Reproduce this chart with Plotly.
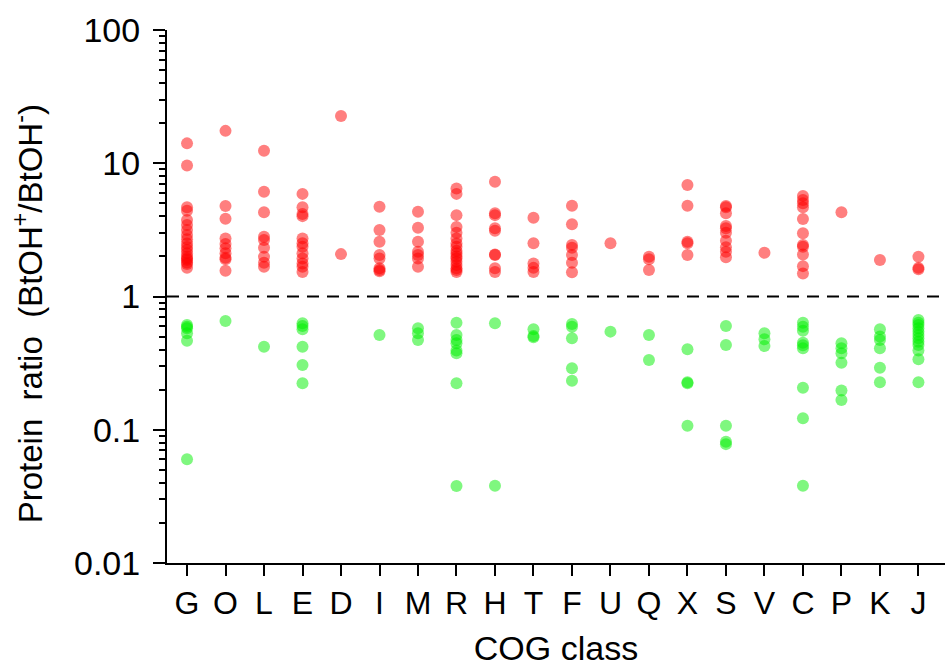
import plotly.graph_objects as go

categories = ["G", "O", "L", "E", "D", "I", "M", "R", "H", "T",
              "F", "U", "Q", "X", "S", "V", "C", "P", "K", "J"]

# ratio > 1 (up-regulated, red)
up_G = [14.1, 9.6, 4.67, 4.4, 3.75, 3.44, 3.15, 2.9, 2.69, 2.5, 2.35, 2.23, 2.11, 1.99, 1.92, 1.88, 1.8, 1.75, 1.64]
up_O = [17.5, 4.77, 3.83, 2.73, 2.48, 2.3, 2.11, 1.95, 1.9, 1.56]
up_L = [12.4, 6.12, 4.28, 2.81, 2.65, 2.32, 1.99, 1.79, 1.67]
up_E = [5.89, 4.67, 4.16, 4.01, 2.73, 2.51, 2.36, 2.11, 1.93, 1.77, 1.67, 1.53]
up_D = [22.6, 2.08]
up_I = [4.72, 3.15, 2.58, 2.05, 1.93, 1.63, 1.58, 1.55]
up_M = [4.32, 3.28, 2.58, 2.17, 2.05, 1.93, 1.67]
up_R = [6.47, 5.89, 4.08, 3.33, 3.01, 2.73, 2.5, 2.36, 2.2, 2.11, 2.0, 1.93, 1.82, 1.72, 1.63, 1.58, 1.53]
up_H = [7.27, 4.21, 4.08, 3.25, 3.12, 2.07, 2.05, 1.63, 1.53]
up_T = [3.9, 2.51, 1.77, 1.64, 1.53]
up_F = [4.8, 3.48, 2.44, 2.32, 2.05, 1.79, 1.52]
up_U = [2.51]
up_Q = [1.99, 1.9, 1.58]
up_X = [6.87, 4.8, 2.58, 2.51, 2.05]
up_S = [4.77, 4.67, 4.21, 3.38, 3.25, 3.01, 2.62, 2.34, 2.17, 1.97]
up_V = [2.13]
up_C = [5.69, 5.3, 5.0, 4.67, 3.81, 2.98, 2.44, 2.36, 2.07, 1.69, 1.49]
up_P = [4.28]
up_K = [1.88]
up_J = [1.99, 1.64, 1.6]

# ratio < 1 (down-regulated, green)
dn_G = [0.611, 0.593, 0.577, 0.529, 0.466, 0.06]
dn_O = [0.655]
dn_L = [0.42]
dn_E = [0.629, 0.6, 0.567, 0.42, 0.306, 0.223]
dn_D = []
dn_I = [0.514]
dn_M = [0.577, 0.529, 0.472]
dn_R = [0.636, 0.514, 0.472, 0.445, 0.393, 0.375, 0.223, 0.0378]
dn_H = [0.629, 0.038]
dn_T = [0.567, 0.505, 0.494]
dn_F = [0.622, 0.593, 0.486, 0.289, 0.233]
dn_U = [0.545]
dn_Q = [0.514, 0.334]
dn_X = [0.402, 0.227, 0.223, 0.107]
dn_S = [0.6, 0.433, 0.107, 0.0814, 0.078]
dn_V = [0.529, 0.478, 0.425]
dn_C = [0.636, 0.593, 0.554, 0.45, 0.43, 0.409, 0.207, 0.122, 0.038]
dn_P = [0.445, 0.409, 0.375, 0.318, 0.197, 0.167]
dn_K = [0.567, 0.5, 0.472, 0.409, 0.292, 0.227]
dn_J = [0.667, 0.636, 0.611, 0.577, 0.545, 0.514, 0.486, 0.458, 0.433, 0.393, 0.338, 0.227]

up_values = [up_G, up_O, up_L, up_E, up_D, up_I, up_M, up_R, up_H, up_T,
             up_F, up_U, up_Q, up_X, up_S, up_V, up_C, up_P, up_K, up_J]
down_values = [dn_G, dn_O, dn_L, dn_E, dn_D, dn_I, dn_M, dn_R, dn_H, dn_T,
               dn_F, dn_U, dn_Q, dn_X, dn_S, dn_V, dn_C, dn_P, dn_K, dn_J]


def flatten(groups):
    xs, ys = [], []
    for cat, vals in zip(categories, groups):
        for v in vals:
            xs.append(cat)
            ys.append(v)
    return xs, ys


FONT = "Liberation Sans, Arial, sans-serif"

fig = go.Figure()
ux, uy = flatten(up_values)
dx, dy = flatten(down_values)
fig.add_trace(go.Scatter(x=ux, y=uy, mode="markers",
                         marker=dict(size=12, color="rgba(255,0,0,0.5)", line=dict(width=0)),
                         showlegend=False))
fig.add_trace(go.Scatter(x=dx, y=dy, mode="markers",
                         marker=dict(size=12, color="rgba(0,240,0,0.5)", line=dict(width=0)),
                         showlegend=False))

fig.add_shape(type="line", xref="paper", x0=0, x1=1, yref="y", y0=1, y1=1,
              line=dict(color="black", width=2, dash="12px,8px"))

# y-axis title placed as a rotated annotation (slightly below the plot centre, as in the reference)
fig.add_annotation(
    text="Protein\u00a0\u00a0ratio\u00a0\u00a0(BtOH<sup>+</sup>/BtOH<sup>-</sup>)",
    xref="paper", yref="paper", x=-0.179, y=0.468,
    xanchor="center", yanchor="middle", textangle=-90, showarrow=False,
    font=dict(size=33, family=FONT, color="black"),
)

fig.update_layout(
    width=947, height=667,
    margin=dict(l=167, r=2, t=30, b=104),
    plot_bgcolor="white", paper_bgcolor="white",
    font=dict(family=FONT, color="black"),
    xaxis=dict(
        type="category", categoryorder="array", categoryarray=categories,
        range=[-0.52, 19.69],
        tickmode="array", tickvals=categories, ticktext=categories,
        showline=True, linecolor="black", linewidth=2,
        ticks="outside", ticklen=11, tickwidth=2, tickcolor="black",
        tickfont=dict(size=32, family=FONT), tickangle=0,
        showgrid=False, zeroline=False,
        title=dict(text="COG class", font=dict(size=34, family=FONT), standoff=18),
    ),
    yaxis=dict(
        type="log", range=[-2, 2], dtick=1, exponentformat="none",
        showline=True, linecolor="black", linewidth=2,
        ticks="outside", ticklen=12, tickwidth=2, tickcolor="black",
        tickfont=dict(size=34, family=FONT), ticklabelstandoff=6,
        minor=dict(dtick="D1", ticks="outside", ticklen=6, tickwidth=1.5, tickcolor="black", showgrid=False),
        showgrid=False, zeroline=False,
    ),
)

fig.write_html("out.html")
